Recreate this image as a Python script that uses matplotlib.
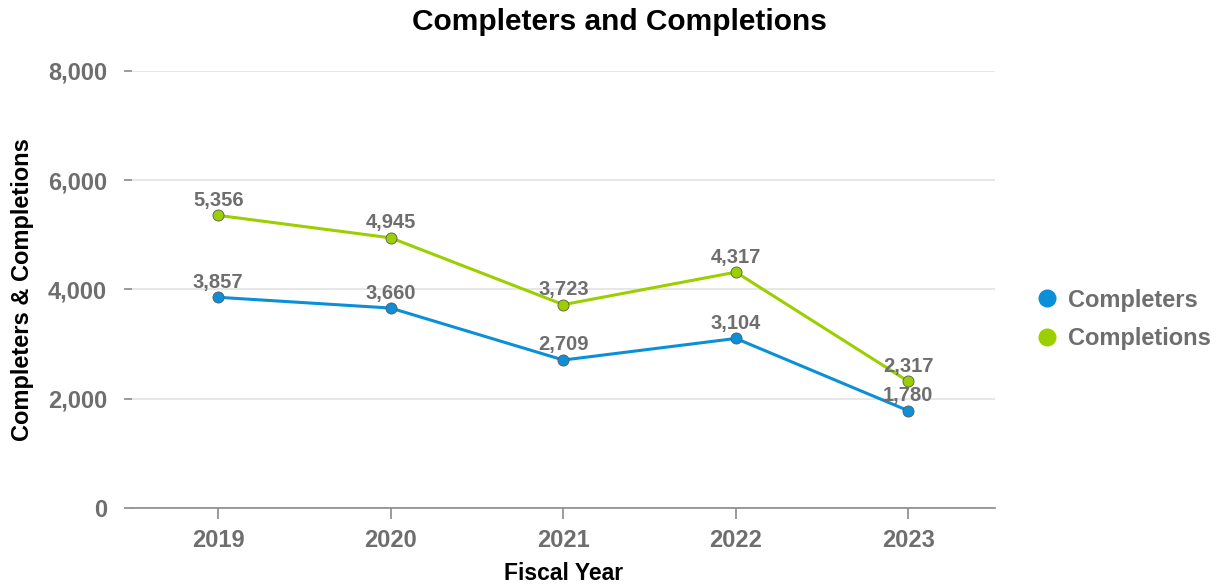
import matplotlib.pyplot as plt
from matplotlib.ticker import FuncFormatter

years = ["2019", "2020", "2021", "2022", "2023"]
completers = [3857, 3660, 2709, 3104, 1780]
completions = [5356, 4945, 3723, 4317, 2317]

blue = '#0b8fd8'
green = '#9bcf00'
gray = '#6e6e6e'

plt.rcParams['font.family'] = ['Liberation Sans', 'DejaVu Sans']
plt.rcParams['font.weight'] = 'bold'

fig = plt.figure(figsize=(12.22, 5.86), dpi=100)
ax = fig.add_axes([0.108, 0.133, 0.706, 0.746])

x = list(range(len(years)))
series = [("Completers", completers, blue), ("Completions", completions, green)]
for name, vals, col in series:
    ax.plot(x, vals, color=col, lw=2.2, marker='o', ms=8,
            mec='#5a5a5a', mew=0.6, label=name, zorder=3)
    for xi, v in zip(x, vals):
        ax.annotate(f"{v:,}", (xi, v), xytext=(0, 4), textcoords='offset points',
                    ha='center', va='bottom', fontsize=14.5, color=gray,
                    fontweight='bold', zorder=4)

ax.set_xlim(-0.5, len(years) - 0.5)
ax.set_ylim(0, 8000)
ax.set_yticks([0, 2000, 4000, 6000, 8000])
ax.yaxis.set_major_formatter(FuncFormatter(lambda v, p: f"{int(v):,}"))
ax.set_xticks(x)
ax.set_xticklabels(years)

ax.grid(axis='y', color='#e3e3e3', lw=1.2, zorder=0)
ax.set_axisbelow(True)
for s in ['top', 'right', 'left']:
    ax.spines[s].set_visible(False)
ax.spines['bottom'].set_color('#8a8a8a')
ax.spines['bottom'].set_linewidth(1.2)

ax.tick_params(axis='y', length=6, width=1.2, color='#8a8a8a', pad=12,
               labelsize=17, labelcolor=gray)
ax.tick_params(axis='x', length=8, width=1.2, color='#8a8a8a', pad=7,
               labelsize=17, labelcolor=gray)

ax.set_xlabel("Fiscal Year", fontsize=16.5, fontweight='bold', color='black', labelpad=7)
ax.set_ylabel("Completers & Completions", fontsize=17, fontweight='bold', color='black', labelpad=10)
fig.text(0.507, 0.962, "Completers and Completions", fontsize=21.5, fontweight='bold',
         color='black', ha='center', va='center')

leg = ax.legend(loc='center left', bbox_to_anchor=(1.025, 0.432), frameon=False,
                fontsize=17, labelcolor=gray, handlelength=0.8, handletextpad=0.5,
                labelspacing=0.65)
for h in leg.legend_handles:
    h.set_linestyle('none')
    h.set_markeredgewidth(0)
    h.set_markersize(13)

fig.savefig("out.png", dpi=100)
